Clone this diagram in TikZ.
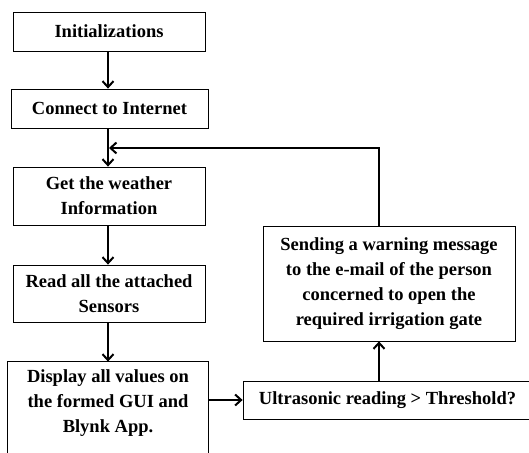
\documentclass[tikz,border=0pt]{standalone}
\usepackage{fontspec}
\setmainfont{Liberation Serif}
\usetikzlibrary{arrows.meta}
\begin{document}
\begin{tikzpicture}[x=1pt,y=1pt,
  box/.style={draw, line width=0.8pt, align=center, inner sep=0pt,
    font=\bfseries\fontsize{18.5}{25}\selectfont},
  flow/.style={line width=2pt, line join=miter, -{Straight Barb[length=6pt,width=11pt,line width=2pt]}}]
\useasboundingbox (0,0) rectangle (529,452);
\clip (0,0) rectangle (529,452);
\node[box, minimum width=192pt, minimum height=39pt] (init) at (109,420.5) {Initializations};
\node[box, minimum width=197pt, minimum height=39pt] (conn) at (109.5,343.5) {Connect to Internet};
\node[box, minimum width=192pt, minimum height=58pt] (weather) at (109,256) {Get the weather\\Information};
\node[box, minimum width=192pt, minimum height=57pt] (read) at (109,158.5) {Read all the attached\\Sensors};
\node[box, draw=none, minimum width=200pt, minimum height=82pt] (disp) at (108,49) {Display all values on\\the formed GUI and\\Blynk App.};
\draw[line width=0.8pt] ([yshift=-40pt]disp.south west) |- (disp.north east) -- ([yshift=-40pt]disp.south east);
\node[box, minimum width=289pt, minimum height=38pt] (ultra) at (387.5,52) {Ultrasonic reading > Threshold?};
\node[box, minimum width=252pt, minimum height=115pt] (send) at (389,168.5) {Sending a warning message\\to the e-mail of the person\\concerned to open the\\required irrigation gate};
\coordinate (corner) at (379,304);
\coordinate (join) at (109,304);
\coordinate (vx) at (108,0);
\draw[flow] (init.south -| vx) -- (conn.north -| vx);
\draw[flow] (conn.south -| vx) -- (weather.north -| vx);
\draw[flow] (weather.south -| vx) -- (read.north -| vx);
\draw[flow] (read.south -| vx) -- (disp.north -| vx);
\draw[flow] (ultra.west -| disp.east) -- (ultra.west);
\draw[flow] (ultra.north -| corner) -- (send.south -| corner);
\draw[flow] (send.north -| corner) -- (corner) -- (join);
\end{tikzpicture}
\end{document}
